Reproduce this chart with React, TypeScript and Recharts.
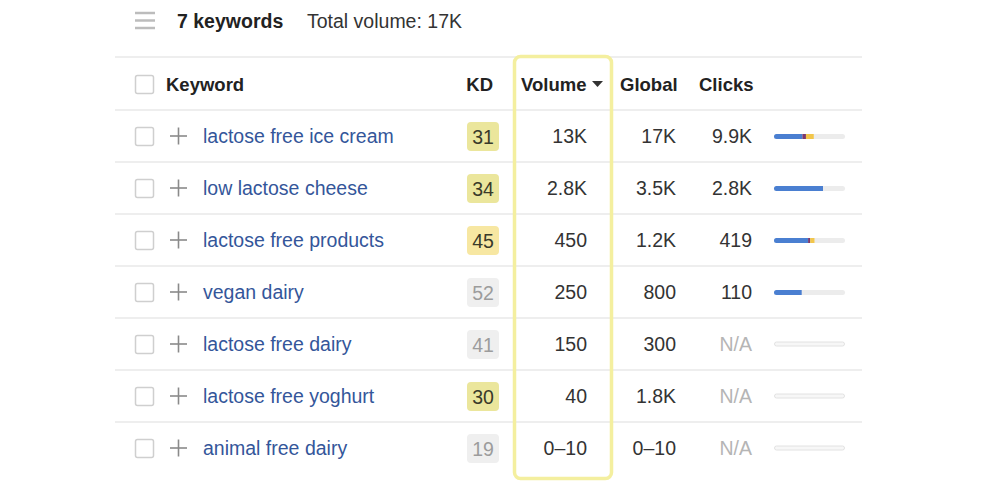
import { Bar, BarChart, XAxis, YAxis } from "recharts";

const keywords = [
  "lactose free ice cream",
  "low lactose cheese",
  "lactose free products",
  "vegan dairy",
  "lactose free dairy",
  "lactose free yoghurt",
  "animal free dairy",
];
const kd = [31, 34, 45, 52, 41, 30, 19];
const kdTone = ["easy", "easy", "medium", "none", "none", "easy", "none"];
const volume = ["13K", "2.8K", "450", "250", "150", "40", "0–10"];
const globalVolume = ["17K", "3.5K", "1.2K", "800", "300", "1.8K", "0–10"];
const clicks = ["9.9K", "2.8K", "419", "110", "N/A", "N/A", "N/A"];
// share of the clicks bar, in % of the track
const organicShare = [40, 69, 48, 39, 0, 0, 0];
const mixedShare = [5, 0, 3, 0, 0, 0, 0];
const paidShare = [11, 0, 6, 0, 0, 0, 0];

const data = keywords.map((k, i) => ({
  keyword: k,
  organic: organicShare[i],
  mixed: mixedShare[i],
  paid: paidShare[i],
}));

const FONT = '"Liberation Sans", Arial, Helvetica, sans-serif';
const badgeFill: Record<string, string> = { easy: "#ebe69c", medium: "#f7e7a2", none: "#efefef" };
const badgeText: Record<string, string> = { easy: "#3a3a2a", medium: "#3a3a2a", none: "#9c9c9c" };

// plot area of the little click bars
const W = 1000;
const H = 500;
const TRACK_LEFT = 774;
const TRACK_RIGHT = 845;
const Y_AXIS_W = 10;

function RowTick(props: any) {
  const { y, payload } = props;
  const i = keywords.indexOf(payload.value);
  if (i < 0) return null;
  const noClicks = clicks[i] === "N/A";
  return (
    <g fontFamily={FONT} fontSize={19.5}>
      <line x1={115} x2={862} y1={y - 26} y2={y - 26} stroke="#e9e9e9" strokeWidth={1.5} />
      <rect x={135.5} y={y - 8.5} width={18} height={18} rx={2} fill="#fff" stroke="#cfcfcf" strokeWidth={1.5} />
      <line x1={170} x2={187} y1={y} y2={y} stroke="#8a8a8a" strokeWidth={1.6} />
      <line x1={178.5} x2={178.5} y1={y - 8.5} y2={y + 8.5} stroke="#8a8a8a" strokeWidth={1.6} />
      <text x={203} y={y} dominantBaseline="central" fill="#34569a">
        {keywords[i]}
      </text>
      <rect x={467} y={y - 14} width={32} height={29} rx={4} fill={badgeFill[kdTone[i]]} />
      <text x={483} y={y + 1} dominantBaseline="central" textAnchor="middle" fill={badgeText[kdTone[i]]}>
        {kd[i]}
      </text>
      <text x={587} y={y} dominantBaseline="central" textAnchor="end" fill="#333">
        {volume[i]}
      </text>
      <text x={676} y={y} dominantBaseline="central" textAnchor="end" fill="#333">
        {globalVolume[i]}
      </text>
      <text x={752} y={y} dominantBaseline="central" textAnchor="end" fill={noClicks ? "#b5b5b5" : "#333"}>
        {clicks[i]}
      </text>
      {noClicks ? (
        <rect
          x={TRACK_LEFT + 0.5}
          y={y - 2}
          width={TRACK_RIGHT - TRACK_LEFT - 1}
          height={4}
          rx={2}
          fill="#f7f7f7"
          stroke="#e2e2e2"
          strokeWidth={1}
        />
      ) : null}
    </g>
  );
}

export default function App() {
  return (
    <div style={{ position: "relative", width: W, height: H, background: "#fff", overflow: "hidden" }}>
      <style>{"body{margin:0;overflow:hidden}"}</style>
      <BarChart
        width={W}
        height={H}
        data={data}
        layout="vertical"
        margin={{ top: 110, right: W - TRACK_RIGHT, bottom: 26, left: TRACK_LEFT - Y_AXIS_W }}
        barSize={5}
      >
        <XAxis type="number" domain={[0, 100]} hide />
        <YAxis
          type="category"
          dataKey="keyword"
          width={Y_AXIS_W}
          axisLine={false}
          tickLine={false}
          interval={0}
          tick={<RowTick />}
        />
        <Bar
          dataKey="organic"
          stackId="c"
          fill="#4a7fd1"
          background={{ fill: "#ececec", radius: 2.5 }}
          radius={[3, 0, 0, 3]}
          isAnimationActive={false}
        />
        <Bar dataKey="mixed" stackId="c" fill="#7e3a6e" isAnimationActive={false} />
        <Bar dataKey="paid" stackId="c" fill="#f2c64b" isAnimationActive={false} />
      </BarChart>
      <svg width={W} height={H} style={{ position: "absolute", left: 0, top: 0, pointerEvents: "none" }}>
        <g fontFamily={FONT}>
          {[13, 20.5, 28].map((ly) => (
            <line key={ly} x1={135} x2={155} y1={ly} y2={ly} stroke="#bcbcbc" strokeWidth={2.5} />
          ))}
          <text x={177} y={21} dominantBaseline="central" fontSize={19.5} fontWeight="bold" fill="#222">
            7 keywords
          </text>
          <text x={307} y={21} dominantBaseline="central" fontSize={19.5} fill="#333">
            Total volume: 17K
          </text>
          <line x1={115} x2={862} y1={57} y2={57} stroke="#e9e9e9" strokeWidth={1.5} />
          <rect x={135.5} y={75.5} width={18} height={18} rx={2} fill="#fff" stroke="#cfcfcf" strokeWidth={1.5} />
          <g fontSize={18.5} fontWeight="bold" fill="#222">
            <text x={166} y={84} dominantBaseline="central">Keyword</text>
            <text x={493} y={84} dominantBaseline="central" textAnchor="end">KD</text>
            <text x={521} y={84} dominantBaseline="central">Volume</text>
            <text x={620} y={84} dominantBaseline="central">Global</text>
            <text x={699} y={84} dominantBaseline="central">Clicks</text>
          </g>
          <path d="M592 81 L603 81 L597.5 87 Z" fill="#333" />
          <rect x={514.5} y={56.5} width={97} height={422} rx={6} fill="none" stroke="#f4ef9f" strokeWidth={3.5} />
        </g>
      </svg>
    </div>
  );
}
